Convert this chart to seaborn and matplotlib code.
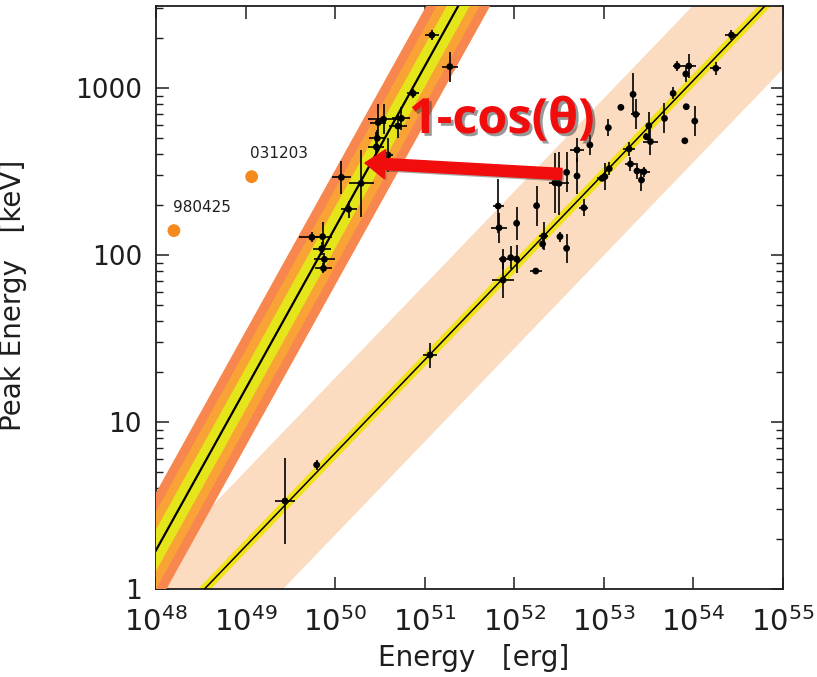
import numpy as np
import matplotlib
matplotlib.use("Agg")
import matplotlib.pyplot as plt
import matplotlib.patheffects as pe
from matplotlib.ticker import FixedLocator, FixedFormatter, NullLocator, NullFormatter
import seaborn as sns

# ---- collimation-corrected sample: log10 E_gamma [erg], log10 Ep [keV], 1-sigma errors in dex
ghir_logE = [51.08, 51.28, 50.87, 50.54, 50.48, 50.74, 50.70, 50.47, 50.46, 50.59,
             50.07, 50.29, 50.15, 49.74, 49.86, 49.85, 49.88, 49.87]
ghir_logEp = [3.317, 3.128, 2.968, 2.813, 2.793, 2.818, 2.772, 2.699, 2.647, 2.599,
              2.465, 2.429, 2.274, 2.106, 2.110, 2.038, 1.974, 1.920]
ghir_dE = [0.08, 0.09, 0.07, 0.17, 0.09, 0.10, 0.10, 0.09, 0.09, 0.06,
           0.11, 0.14, 0.09, 0.14, 0.11, 0.10, 0.12, 0.09]
ghir_dEp = [0.03, 0.09, 0.025, 0.09, 0.11, 0.07, 0.07, 0.05, 0.09, 0.10,
            0.10, 0.20, 0.05, 0.03, 0.09, 0.04, 0.04, 0.03]

# ---- isotropic-equivalent sample
iso_logE = [54.425, 53.818, 53.949, 53.915, 54.25, 53.326, 53.19, 53.773, 53.357, 53.92,
            54.015, 53.05, 53.502, 53.677, 53.476, 53.52, 53.904, 53.282, 53.297, 53.37,
            53.446, 53.42, 53.06, 53.011, 52.98, 52.70, 52.70, 52.777, 52.584, 52.50,
            52.453, 52.249, 51.82, 51.83, 52.026, 52.33, 52.316, 52.51, 52.584, 51.875,
            51.96, 52.026, 52.24, 51.875, 51.058, 49.794, 49.44, 52.844]
iso_logEp = [3.317, 3.132, 3.132, 3.084, 3.118, 2.962, 2.884, 2.968, 2.842, 2.888,
             2.802, 2.762, 2.774, 2.818, 2.708, 2.679, 2.684, 2.635, 2.545, 2.503,
             2.499, 2.449, 2.517, 2.469, 2.459, 2.629, 2.473, 2.283, 2.495, 2.429,
             2.433, 2.295, 2.293, 2.163, 2.190, 2.114, 2.066, 2.110, 2.040, 1.974,
             1.984, 1.976, 1.904, 1.850, 1.401, 0.743, 0.527, 2.659]
iso_dE = [0.07, 0.05, 0.08, 0.0, 0.06, 0.0, 0.0, 0.0, 0.05, 0.0,
          0.0, 0.0, 0.0, 0.0, 0.04, 0.08, 0.0, 0.07, 0.06, 0.0,
          0.07, 0.0, 0.0, 0.0, 0.06, 0.08, 0.0, 0.05, 0.0, 0.11,
          0.0, 0.0, 0.06, 0.09, 0.0, 0.05, 0.0, 0.0, 0.0, 0.05,
          0.0, 0.0, 0.065, 0.12, 0.08, 0.0, 0.11, 0.0]
iso_dEp = [0.03, 0.03, 0.07, 0.05, 0.04, 0.125, 0.0, 0.035, 0.09, 0.0,
           0.09, 0.05, 0.085, 0.09, 0.02, 0.08, 0.0, 0.04, 0.04, 0.05,
           0.03, 0.065, 0.04, 0.08, 0.0, 0.07, 0.11, 0.05, 0.12, 0.19,
           0.18, 0.12, 0.16, 0.09, 0.10, 0.085, 0.03, 0.03, 0.085, 0.06,
           0.07, 0.085, 0.0, 0.11, 0.075, 0.03, 0.26, 0.06]

# ---- low-luminosity outliers
out_names = ["980425", "031203"]
out_logE = [48.20, 49.068]
out_logEp = [2.146, 2.469]

# ---- best-fit relations: log Ep = a + b (log E - pivot)
ghir_a, ghir_b, ghir_pivot = 2.164, 0.966, 50.0
ghir_widths = [0.345, 0.232, 0.124]
ghir_colors = ["#F8864F", "#F9A336", "#E4E619"]
iso_a, iso_b, iso_pivot = 1.93, 0.558, 52.0
iso_up, iso_lo, iso_core = 0.45, 0.49, 0.04

sns.set_theme(style="ticks")
plt.rcParams["font.family"] = ["DejaVu Sans"]
plt.rcParams["mathtext.fontset"] = "dejavusans"
ink = "#1e1e1e"

fig = plt.figure(figsize=(8.17, 6.77), dpi=100)
ax = fig.add_axes([156 / 817, 1 - 589 / 677, (783 - 156) / 817, (589 - 6) / 677])
ax.set_xscale("log")
ax.set_yscale("log")

lx = np.linspace(47.5, 55.5, 200)
E = 10 ** lx

# isotropic relation with its scatter band
iso_fit = iso_a + iso_b * (lx - iso_pivot)
ax.fill_between(E, 10 ** (iso_fit - iso_lo), 10 ** (iso_fit + iso_up),
                color="#FBDCC0", lw=0, zorder=1)
ax.fill_between(E, 10 ** (iso_fit - iso_core), 10 ** (iso_fit + iso_core),
                color="#F2E21A", lw=0, zorder=2)
sns.lineplot(x=E, y=10 ** iso_fit, ax=ax, color="black", lw=1.1, zorder=3)

# collimation-corrected relation with nested bands
ghir_fit = ghir_a + ghir_b * (lx - ghir_pivot)
for w, c, z in zip(ghir_widths, ghir_colors, [4, 5, 6]):
    ax.fill_between(E, 10 ** (ghir_fit - w), 10 ** (ghir_fit + w), color=c, lw=0, zorder=z)
sns.lineplot(x=E, y=10 ** ghir_fit, ax=ax, color="black", lw=1.6, zorder=7)


def draw_points(logE, logEp, dE, dEp):
    x = 10 ** np.array(logE)
    y = 10 ** np.array(logEp)
    dE = np.array(dE)
    dEp = np.array(dEp)
    ax.errorbar(x, y,
                xerr=[x - x * 10 ** -dE, x * 10 ** dE - x],
                yerr=[y - y * 10 ** -dEp, y * 10 ** dEp - y],
                fmt="none", ecolor="black", elinewidth=1.2, capsize=0, zorder=8)
    sns.scatterplot(x=x, y=y, ax=ax, color="black", s=24, edgecolor="none",
                    zorder=9, legend=False)


draw_points(ghir_logE, ghir_logEp, ghir_dE, ghir_dEp)
draw_points(iso_logE, iso_logEp, iso_dE, iso_dEp)

# outliers
ox = 10 ** np.array(out_logE)
oy = 10 ** np.array(out_logEp)
sns.scatterplot(x=ox, y=oy, ax=ax, color="#F5891E", s=85, edgecolor="none",
                zorder=10, legend=False)
for name, xx, yy in zip(out_names, ox, oy):
    ax.annotate(name, (xx, yy), xytext=(-1, 17), textcoords="offset points",
                ha="left", va="center", fontsize=11, color=ink, zorder=10)

# opening-angle correction annotation
red = "#F20D0D"
ax.annotate("", xy=(10 ** 50.333, 10 ** 2.551), xytext=(10 ** 52.53, 10 ** 2.485),
            arrowprops=dict(arrowstyle="simple,head_length=0.9,head_width=1.3,tail_width=0.5",
                            color=red, mutation_scale=16, shrinkA=0, shrinkB=0,
                            path_effects=[pe.withSimplePatchShadow(offset=(1.5, -1.5),
                                                                   shadow_rgbFace="#555555",
                                                                   alpha=0.5)]),
            zorder=19)
ax.text(10 ** 51.86, 10 ** 2.805, "1-cos(θ)", fontsize=35, fontweight="bold",
        color=red, family=["Open Sans", "DejaVu Sans"], ha="center", va="center",
        path_effects=[pe.withSimplePatchShadow(offset=(2, -2), shadow_rgbFace="#444444",
                                               alpha=0.55)],
        zorder=20)

# axes, ticks and labels
ax.set_xlim(1e48, 1e55)
ax.set_ylim(1, 10 ** 3.491)
xt = list(range(48, 56))
ax.xaxis.set_major_locator(FixedLocator([10.0 ** k for k in xt]))
ax.xaxis.set_major_formatter(FixedFormatter([rf"$10^{{{k}}}$" for k in xt]))
ax.xaxis.set_minor_locator(NullLocator())
yt = [1, 10, 100, 1000]
ax.yaxis.set_major_locator(FixedLocator(yt))
ax.yaxis.set_major_formatter(FixedFormatter([str(v) for v in yt]))
ax.yaxis.set_minor_locator(FixedLocator([m * 10.0 ** d for d in range(0, 4) for m in range(2, 10)]))
ax.yaxis.set_minor_formatter(NullFormatter())

ax.tick_params(which="both", direction="in", top=True, right=True, colors=ink)
ax.tick_params(which="major", length=9, width=1.1)
ax.tick_params(which="minor", length=5, width=1.0)
ax.tick_params(axis="x", labelsize=21, pad=13)
ax.tick_params(axis="y", labelsize=19, pad=10)
for sp in ax.spines.values():
    sp.set_linewidth(1.3)
    sp.set_color(ink)

ax.set_xlabel("Energy   [erg]", fontsize=20, color=ink)
ax.set_ylabel("Peak Energy   [keV]", fontsize=20, color=ink)
ax.xaxis.set_label_coords(0.507, -0.094)
ax.yaxis.set_label_coords(-0.205, 0.504)

fig.savefig("out.png", dpi=100)
